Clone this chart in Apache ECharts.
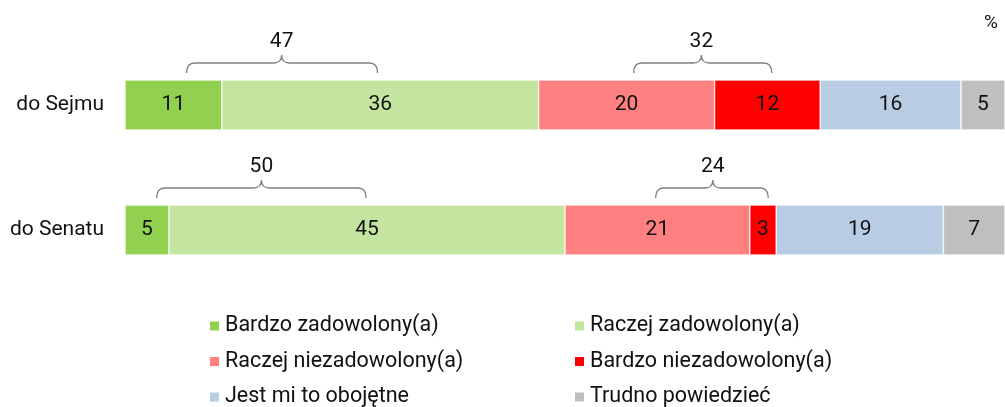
<!DOCTYPE html>
<html>
<head>
<meta charset="utf-8">
<script src="https://cdn.jsdelivr.net/npm/echarts@6/dist/echarts.min.js"></script>
<style>
  html, body { margin: 0; padding: 0; background: #fff; }
  #chart { width: 1005px; height: 407px; }
</style>
</head>
<body>
<div id="chart"></div>
<script>
// categories (top to bottom)
var categories = ["do Sejmu", "do Senatu"];
var seriesNames = [
  "Bardzo zadowolony(a)",
  "Raczej zadowolony(a)",
  "Raczej niezadowolony(a)",
  "Bardzo niezadowolony(a)",
  "Jest mi to obojętne",
  "Trudno powiedzieć"
];
var colors = ["#92d050", "#c4e5a0", "#ff8080", "#ff0000", "#b8cce4", "#bfbfbf"];
// values per series: [Sejm, Senat]
var bardzoZad = [11, 5];
var raczejZad = [36, 45];
var raczejNiezad = [20, 21];
var bardzoNiezad = [12, 3];
var obojetne = [16, 19];
var trudno = [5, 7];
var values = [bardzoZad, raczejZad, raczejNiezad, bardzoNiezad, obojetne, trudno];

// braces: [category index, start, tip, end, label] in % units
var braces = [
  [0, 7.0, 17.8, 28.7, "47"],
  [0, 57.8, 65.5, 73.5, "32"],
  [1, 3.6, 15.5, 27.4, "50"],
  [1, 60.3, 66.8, 73.1, "24"]
];

var FONT = "Roboto";
var BAR_H = 50;

var chart = echarts.init(document.getElementById("chart"));

var barSeries = seriesNames.map(function (name, i) {
  return {
    name: name,
    type: "bar",
    stack: "total",
    barWidth: BAR_H,
    data: values[i],
    itemStyle: { color: colors[i], borderColor: "#fff", borderWidth: 0.6 },
    label: {
      show: true,
      position: "inside",
      color: "#111",
      fontFamily: FONT,
      fontSize: 21
    },
    emphasis: { disabled: true }
  };
});

var braceSeries = {
  type: "custom",
  silent: true,
  data: braces,
  encode: { x: [1, 2, 3], y: 0 },
  renderItem: function (params, api) {
    var cat = api.value(0);
    var p1 = api.coord([api.value(1), cat]);
    var pt = api.coord([api.value(2), cat]);
    var p2 = api.coord([api.value(3), cat]);
    var barTop = p1[1] - BAR_H / 2;
    var yb = barTop - 7;
    var yt = barTop - 17;
    var ytip = barTop - 25;
    var r = 8;
    var x1 = p1[0], xt = pt[0], x2 = p2[0];
    var d = "M" + x1 + "," + yb +
      " Q" + x1 + "," + yt + " " + (x1 + r) + "," + yt +
      " L" + (xt - r) + "," + yt +
      " Q" + xt + "," + yt + " " + xt + "," + ytip +
      " Q" + xt + "," + yt + " " + (xt + r) + "," + yt +
      " L" + (x2 - r) + "," + yt +
      " Q" + x2 + "," + yt + " " + x2 + "," + yb;
    return {
      type: "group",
      children: [
        {
          type: "path",
          shape: { pathData: d },
          style: { stroke: "#7f7f7f", lineWidth: 1.3, fill: null }
        },
        {
          type: "text",
          style: {
            text: braces[params.dataIndex][4],
            x: xt,
            y: barTop - 38,
            align: "center",
            verticalAlign: "middle",
            fontFamily: FONT,
            fontSize: 21,
            fill: "#111"
          }
        }
      ]
    };
  }
};

var legendStyle = {
  orient: "vertical",
  top: 314,
  height: 200,
  padding: 0,
  itemWidth: 11,
  itemHeight: 11,
  itemGap: 11.5,
  icon: "rect",
  selectedMode: false,
  textStyle: { fontFamily: FONT, fontSize: 21.5, color: "#111", lineHeight: 24 }
};

chart.setOption({
  animation: false,
  color: colors,
  textStyle: { fontFamily: FONT },
  grid: { left: 125, top: 42.5, width: 883, height: 250, containLabel: false },
  xAxis: {
    type: "value",
    min: 0,
    max: 100,
    show: false
  },
  yAxis: {
    type: "category",
    data: categories,
    inverse: true,
    axisLine: { show: false },
    axisTick: { show: false },
    axisLabel: { color: "#111", fontFamily: FONT, fontSize: 21, margin: 21 }
  },
  legend: [
    Object.assign({ data: [seriesNames[0], seriesNames[2], seriesNames[4]], left: 208 }, legendStyle),
    Object.assign({ data: [seriesNames[1], seriesNames[3], seriesNames[5]], left: 573 }, legendStyle)
  ],
  graphic: [
    {
      type: "text",
      right: 7,
      top: 14,
      style: { text: "%", fontFamily: FONT, fontSize: 19, fill: "#111" }
    }
  ],
  series: barSeries.concat([braceSeries])
});
</script>
</body>
</html>
